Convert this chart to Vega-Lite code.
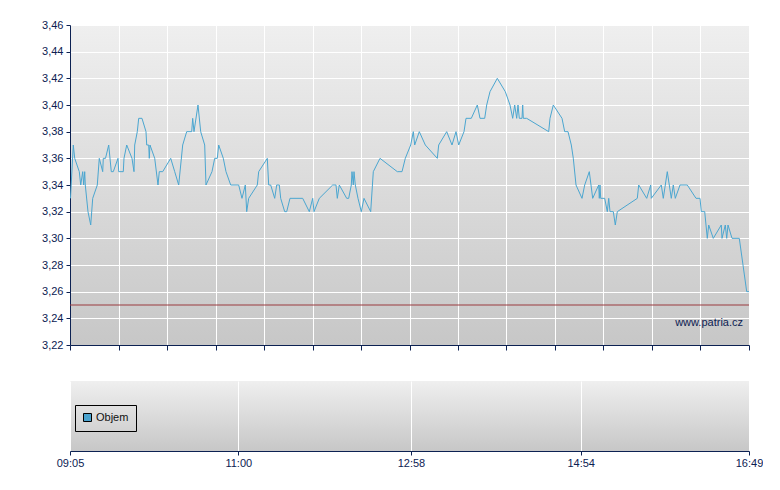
{
  "$schema": "https://vega.github.io/schema/vega-lite/v6.json",
  "background": "white",
  "padding": {"left": 40, "top": 19, "right": 0, "bottom": 0},
  "spacing": 30,
  "config": {
    "font": "Liberation Sans",
    "view": {
      "stroke": null,
      "fill": {"gradient": "linear", "x1": 0, "y1": 0, "x2": 0, "y2": 1,
        "stops": [{"offset": 0, "color": "#efefef"}, {"offset": 1, "color": "#c7c7c7"}]}
    },
    "axis": {
      "labelFont": "Liberation Sans", "labelFontSize": 11, "labelColor": "#0c2152",
      "domainColor": "#0c2152", "tickColor": "#0c2152", "domainWidth": 1, "tickWidth": 1,
      "gridColor": "#ffffff", "gridOpacity": 1, "gridWidth": 1, "title": null
    },
    "axisY": {
      "values": [3.22, 3.24, 3.26, 3.28, 3.30, 3.32, 3.34, 3.36, 3.38, 3.40, 3.42, 3.44, 3.46],
      "format": ".2f", "labelExpr": "replace(datum.label, '.', ',')",
      "labelOverlap": false,
      "tickSize": 4, "labelPadding": 3, "minExtent": 30, "maxExtent": 30, "grid": true
    }
  },
  "datasets": {
    "price": [
      {"t": "09:05:20", "p": 3.33}, {"t": "09:07:15", "p": 3.37}, {"t": "09:08:13", "p": 3.36},
      {"t": "09:11:21", "p": 3.35}, {"t": "09:12:19", "p": 3.34}, {"t": "09:13:41", "p": 3.35},
      {"t": "09:14:22", "p": 3.34}, {"t": "09:15:03", "p": 3.35}, {"t": "09:15:27", "p": 3.34},
      {"t": "09:17:18", "p": 3.32}, {"t": "09:19:09", "p": 3.31}, {"t": "09:20:31", "p": 3.33},
      {"t": "09:23:39", "p": 3.34}, {"t": "09:25:01", "p": 3.36}, {"t": "09:27:21", "p": 3.35},
      {"t": "09:27:45", "p": 3.36}, {"t": "09:29:16", "p": 3.36}, {"t": "09:31:27", "p": 3.37},
      {"t": "09:33:13", "p": 3.35}, {"t": "09:34:35", "p": 3.35}, {"t": "09:37:48", "p": 3.36},
      {"t": "09:38:17", "p": 3.35}, {"t": "09:41:25", "p": 3.35}, {"t": "09:41:54", "p": 3.36},
      {"t": "09:43:45", "p": 3.37}, {"t": "09:47:22", "p": 3.36}, {"t": "09:48:44", "p": 3.35},
      {"t": "09:49:13", "p": 3.37}, {"t": "09:50:59", "p": 3.38}, {"t": "09:51:57", "p": 3.39},
      {"t": "09:54:12", "p": 3.39}, {"t": "09:56:56", "p": 3.38}, {"t": "09:57:25", "p": 3.37},
      {"t": "09:58:47", "p": 3.37}, {"t": "09:59:11", "p": 3.36}, {"t": "09:59:40", "p": 3.37},
      {"t": "10:02:53", "p": 3.36}, {"t": "10:05:08", "p": 3.34}, {"t": "10:06:01", "p": 3.35},
      {"t": "10:08:21", "p": 3.35}, {"t": "10:13:49", "p": 3.36}, {"t": "10:16:33", "p": 3.35},
      {"t": "10:19:17", "p": 3.34}, {"t": "10:22:01", "p": 3.37}, {"t": "10:24:45", "p": 3.38},
      {"t": "10:28:10", "p": 3.38}, {"t": "10:28:51", "p": 3.39}, {"t": "10:29:44", "p": 3.38},
      {"t": "10:32:28", "p": 3.40}, {"t": "10:34:19", "p": 3.38}, {"t": "10:37:03", "p": 3.37},
      {"t": "10:37:56", "p": 3.34}, {"t": "10:42:02", "p": 3.35}, {"t": "10:43:53", "p": 3.36},
      {"t": "10:45:40", "p": 3.36}, {"t": "10:46:37", "p": 3.37}, {"t": "10:49:46", "p": 3.36},
      {"t": "10:51:36", "p": 3.35}, {"t": "10:54:49", "p": 3.34}, {"t": "11:00:17", "p": 3.34},
      {"t": "11:02:32", "p": 3.33}, {"t": "11:04:48", "p": 3.34}, {"t": "11:05:45", "p": 3.32},
      {"t": "11:07:07", "p": 3.33}, {"t": "11:13:00", "p": 3.34}, {"t": "11:13:57", "p": 3.35},
      {"t": "11:19:50", "p": 3.36}, {"t": "11:20:47", "p": 3.34}, {"t": "11:22:09", "p": 3.34},
      {"t": "11:24:53", "p": 3.33}, {"t": "11:26:15", "p": 3.34}, {"t": "11:28:02", "p": 3.34},
      {"t": "11:28:59", "p": 3.33}, {"t": "11:31:43", "p": 3.32}, {"t": "11:33:05", "p": 3.32},
      {"t": "11:35:20", "p": 3.33}, {"t": "11:44:01", "p": 3.33}, {"t": "11:48:32", "p": 3.32},
      {"t": "11:50:51", "p": 3.33}, {"t": "11:51:44", "p": 3.32}, {"t": "11:55:22", "p": 3.33},
      {"t": "12:04:31", "p": 3.34}, {"t": "12:06:46", "p": 3.34}, {"t": "12:07:40", "p": 3.33},
      {"t": "12:09:02", "p": 3.34}, {"t": "12:14:05", "p": 3.33}, {"t": "12:15:27", "p": 3.33},
      {"t": "12:17:14", "p": 3.34}, {"t": "12:17:42", "p": 3.35}, {"t": "12:18:36", "p": 3.34},
      {"t": "12:19:04", "p": 3.35}, {"t": "12:19:58", "p": 3.34}, {"t": "12:21:48", "p": 3.33},
      {"t": "12:24:04", "p": 3.32}, {"t": "12:25:54", "p": 3.33}, {"t": "12:30:29", "p": 3.32},
      {"t": "12:32:16", "p": 3.35}, {"t": "12:36:50", "p": 3.36}, {"t": "12:48:40", "p": 3.35},
      {"t": "12:51:53", "p": 3.35}, {"t": "12:54:08", "p": 3.36}, {"t": "12:57:49", "p": 3.37},
      {"t": "12:59:36", "p": 3.38}, {"t": "13:00:33", "p": 3.37}, {"t": "13:03:42", "p": 3.38},
      {"t": "13:07:48", "p": 3.37}, {"t": "13:16:00", "p": 3.36}, {"t": "13:16:57", "p": 3.37},
      {"t": "13:22:25", "p": 3.38}, {"t": "13:26:03", "p": 3.37}, {"t": "13:28:47", "p": 3.38},
      {"t": "13:30:37", "p": 3.37}, {"t": "13:34:15", "p": 3.38}, {"t": "13:35:37", "p": 3.39},
      {"t": "13:39:14", "p": 3.39}, {"t": "13:43:20", "p": 3.40}, {"t": "13:45:11", "p": 3.39},
      {"t": "13:48:23", "p": 3.39}, {"t": "13:49:45", "p": 3.40}, {"t": "13:52:01", "p": 3.41},
      {"t": "13:57:00", "p": 3.42}, {"t": "14:02:28", "p": 3.41}, {"t": "14:05:41", "p": 3.40},
      {"t": "14:07:31", "p": 3.39}, {"t": "14:08:53", "p": 3.40}, {"t": "14:10:15", "p": 3.39},
      {"t": "14:11:09", "p": 3.40}, {"t": "14:12:02", "p": 3.39}, {"t": "14:13:53", "p": 3.39},
      {"t": "14:14:21", "p": 3.40}, {"t": "14:14:46", "p": 3.39}, {"t": "14:17:05", "p": 3.39},
      {"t": "14:32:07", "p": 3.38}, {"t": "14:33:01", "p": 3.39}, {"t": "14:35:16", "p": 3.40},
      {"t": "14:41:13", "p": 3.39}, {"t": "14:43:03", "p": 3.38}, {"t": "14:45:19", "p": 3.38},
      {"t": "14:47:34", "p": 3.37}, {"t": "14:48:56", "p": 3.36}, {"t": "14:50:47", "p": 3.34},
      {"t": "14:54:53", "p": 3.33}, {"t": "14:56:43", "p": 3.34}, {"t": "14:59:52", "p": 3.35},
      {"t": "15:02:11", "p": 3.33}, {"t": "15:06:17", "p": 3.34}, {"t": "15:06:42", "p": 3.33},
      {"t": "15:07:11", "p": 3.34}, {"t": "15:07:39", "p": 3.33}, {"t": "15:10:23", "p": 3.33},
      {"t": "15:12:10", "p": 3.32}, {"t": "15:13:08", "p": 3.33}, {"t": "15:14:01", "p": 3.32},
      {"t": "15:16:16", "p": 3.32}, {"t": "15:17:38", "p": 3.31}, {"t": "15:19:00", "p": 3.32},
      {"t": "15:32:40", "p": 3.33}, {"t": "15:33:38", "p": 3.34}, {"t": "15:39:06", "p": 3.33},
      {"t": "15:41:50", "p": 3.34}, {"t": "15:42:14", "p": 3.33}, {"t": "15:49:04", "p": 3.34},
      {"t": "15:50:26", "p": 3.33}, {"t": "15:53:10", "p": 3.35}, {"t": "15:55:54", "p": 3.33},
      {"t": "15:57:16", "p": 3.34}, {"t": "15:58:38", "p": 3.33}, {"t": "16:01:51", "p": 3.34},
      {"t": "16:06:50", "p": 3.34}, {"t": "16:12:47", "p": 3.33}, {"t": "16:15:31", "p": 3.33},
      {"t": "16:16:24", "p": 3.32}, {"t": "16:18:44", "p": 3.32}, {"t": "16:20:30", "p": 3.30},
      {"t": "16:21:28", "p": 3.31}, {"t": "16:24:36", "p": 3.30}, {"t": "16:30:04", "p": 3.31},
      {"t": "16:30:33", "p": 3.30}, {"t": "16:32:48", "p": 3.31}, {"t": "16:33:46", "p": 3.30},
      {"t": "16:34:39", "p": 3.31}, {"t": "16:37:23", "p": 3.30}, {"t": "16:42:22", "p": 3.30},
      {"t": "16:47:26", "p": 3.26}, {"t": "16:49:00", "p": 3.26}
    ],
    "volume": [
      {"t": "09:05:00", "series": "Objem", "volume": 0}
    ],
    "reference": [
      {"level": 3.25}
    ],
    "source": [
      {"label": "www.patria.cz"}
    ]
  },
  "vconcat": [
    {
      "width": 679,
      "height": 320,
      "layer": [
        {
          "data": {"name": "price", "format": {"parse": {"t": "date:'%H:%M:%S'"}}},
          "mark": {"type": "line", "color": "#4ba6d0", "strokeWidth": 1, "interpolate": "linear"},
          "encoding": {
            "x": {
              "field": "t", "type": "temporal",
              "scale": {"domain": [
                {"year": 1900, "month": 1, "date": 1, "hours": 9, "minutes": 5},
                {"year": 1900, "month": 1, "date": 1, "hours": 16, "minutes": 49}
              ], "nice": false},
              "axis": {
                "labels": false, "tickSize": 5, "grid": true,
                "values": [
                  {"year": 1900, "month": 1, "date": 1, "hours": 9, "minutes": 5, "seconds": 0},
                  {"year": 1900, "month": 1, "date": 1, "hours": 9, "minutes": 38, "seconds": 9},
                  {"year": 1900, "month": 1, "date": 1, "hours": 10, "minutes": 11, "seconds": 17},
                  {"year": 1900, "month": 1, "date": 1, "hours": 10, "minutes": 44, "seconds": 26},
                  {"year": 1900, "month": 1, "date": 1, "hours": 11, "minutes": 17, "seconds": 34},
                  {"year": 1900, "month": 1, "date": 1, "hours": 11, "minutes": 50, "seconds": 43},
                  {"year": 1900, "month": 1, "date": 1, "hours": 12, "minutes": 23, "seconds": 51},
                  {"year": 1900, "month": 1, "date": 1, "hours": 12, "minutes": 57, "seconds": 0},
                  {"year": 1900, "month": 1, "date": 1, "hours": 13, "minutes": 30, "seconds": 9},
                  {"year": 1900, "month": 1, "date": 1, "hours": 14, "minutes": 3, "seconds": 17},
                  {"year": 1900, "month": 1, "date": 1, "hours": 14, "minutes": 36, "seconds": 26},
                  {"year": 1900, "month": 1, "date": 1, "hours": 15, "minutes": 9, "seconds": 34},
                  {"year": 1900, "month": 1, "date": 1, "hours": 15, "minutes": 42, "seconds": 43},
                  {"year": 1900, "month": 1, "date": 1, "hours": 16, "minutes": 15, "seconds": 51},
                  {"year": 1900, "month": 1, "date": 1, "hours": 16, "minutes": 49, "seconds": 0}
                ]
              }
            },
            "y": {
              "field": "p", "type": "quantitative",
              "scale": {"domain": [3.22, 3.46], "nice": false, "zero": false}
            }
          }
        },
        {
          "data": {"name": "reference"},
          "mark": {"type": "rule", "color": "#9a3a3e", "strokeWidth": 1},
          "encoding": {"y": {"field": "level", "type": "quantitative"}}
        },
        {
          "data": {"name": "source"},
          "mark": {"type": "text", "align": "right", "baseline": "middle", "dx": -6, "fontSize": 11, "font": "Liberation Sans", "color": "#0c2152"},
          "encoding": {
            "x": {"datum": {"year": 1900, "month": 1, "date": 1, "hours": 16, "minutes": 49}, "type": "temporal"},
            "y": {"datum": 3.2363, "type": "quantitative"},
            "text": {"field": "label"}
          }
        }
      ]
    },
    {
      "width": 679,
      "height": 70,
      "data": {"name": "volume", "format": {"parse": {"t": "date:'%H:%M:%S'"}}},
      "mark": {"type": "bar"},
      "encoding": {
        "x": {
          "field": "t", "type": "temporal",
          "scale": {"domain": [
            {"year": 1900, "month": 1, "date": 1, "hours": 9, "minutes": 5},
            {"year": 1900, "month": 1, "date": 1, "hours": 16, "minutes": 49}
          ], "nice": false, "padding": 0},
          "axis": {
            "values": [
              {"year": 1900, "month": 1, "date": 1, "hours": 9, "minutes": 5},
              {"year": 1900, "month": 1, "date": 1, "hours": 11, "minutes": 0},
              {"year": 1900, "month": 1, "date": 1, "hours": 12, "minutes": 58},
              {"year": 1900, "month": 1, "date": 1, "hours": 14, "minutes": 54},
              {"year": 1900, "month": 1, "date": 1, "hours": 16, "minutes": 49}
            ],
            "format": "%H:%M", "labelFlush": false, "labelOverlap": false,
            "tickSize": 4, "labelPadding": 2, "grid": true
          }
        },
        "y": {
          "field": "volume", "type": "quantitative",
          "scale": {"domain": [0, 1]},
          "axis": null
        },
        "color": {
          "field": "series", "type": "nominal",
          "scale": {"domain": ["Objem"], "range": ["#4aa3cf"]},
          "legend": {
            "title": null, "orient": "none", "legendX": 5, "legendY": 380,
            "strokeColor": "#000000", "padding": 7,
            "symbolType": "square", "symbolSize": 64, "symbolStrokeColor": "#000000", "symbolStrokeWidth": 1,
            "labelFont": "Liberation Sans", "labelFontSize": 11, "labelColor": "#111111", "labelOffset": 3
          }
        }
      }
    }
  ]
}
